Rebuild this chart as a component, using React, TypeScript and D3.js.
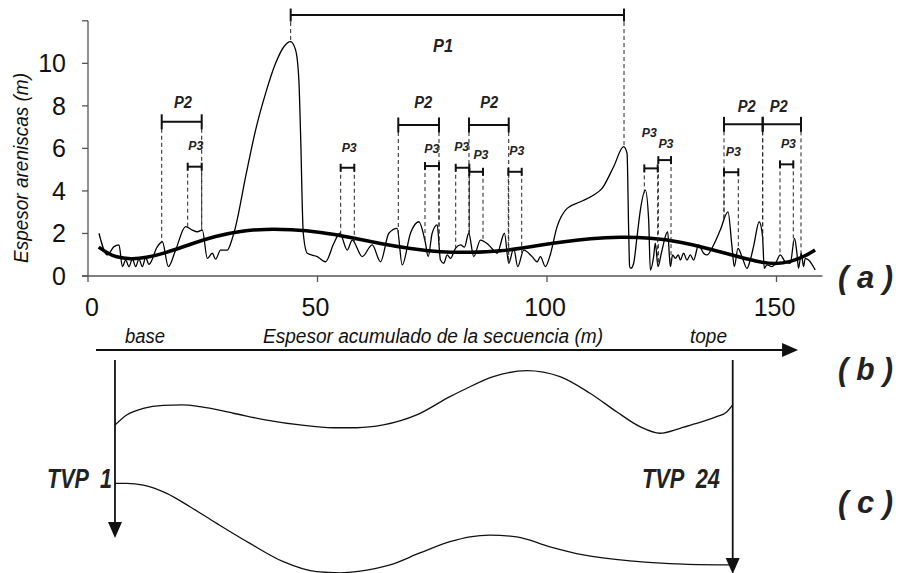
import React from "react";
import * as d3 from "d3";

// ---- Data ----
// Sandstone thickness along the sequence: [accumulated thickness (m), sandstone thickness (m)]
const sandThickness: [number, number][] = [
  [2.39, 2.01], [4.22, 0.99], [5.66, 1.38], [6.75, 1.46], [7.49, 0.44], [8.21, 0.75], [8.93, 0.44],
  [9.67, 0.79], [10.39, 0.44], [11.1, 0.79], [11.84, 0.44], [12.56, 0.86], [13.28, 0.55], [15.11, 1.38],
  [16.2, 1.61], [17.5, 0.44], [19.09, 1.22], [21.27, 2.32], [22.73, 2.16], [23.82, 2.08], [24.91, 2.16],
  [26.0, 0.83], [27.08, 1.07], [27.8, 0.79], [28.89, 1.22], [30.35, 1.22], [31.44, 1.77], [32.16, 2.32],
  [34.34, 4.67], [36.51, 6.86], [38.69, 8.59], [40.87, 10.0], [42.67, 10.78], [44.13, 11.02], [45.22, 10.63],
  [45.94, 9.21], [46.31, 6.71], [46.9, 2.01], [47.77, 1.07], [49.95, 0.91], [51.75, 0.67], [53.56, 1.54],
  [54.87, 2.01], [56.48, 1.22], [57.57, 1.69], [59.74, 0.91], [61.92, 1.46], [63.73, 0.67], [65.54, 2.01],
  [67.36, 2.24], [68.45, 0.52], [70.26, 2.01], [72.07, 2.55], [73.53, 1.54], [74.11, 0.91], [74.98, 2.01],
  [76.07, 2.4], [76.79, 0.75], [77.51, 0.6], [78.25, 0.99], [78.97, 0.83], [80.06, 1.3], [81.15, 1.46],
  [82.02, 1.36], [82.95, 2.01], [84.04, 0.91], [85.5, 1.69], [87.31, 1.46], [89.14, 1.07], [90.73, 2.01],
  [91.66, 0.6], [92.75, 1.3], [93.62, 0.44], [94.93, 1.22], [96.76, 0.91], [97.85, 0.67], [98.56, 0.91],
  [99.65, 0.44], [100.59, 0.91], [102.2, 2.32], [104.38, 3.18], [107.28, 3.49], [110.17, 3.81], [112.0, 4.12],
  [114.52, 5.14], [116.7, 6.08], [117.44, 5.77], [117.79, 2.16], [118.0, 0.44], [118.27, 0.36], [118.88, 0.6],
  [119.62, 1.85], [120.34, 3.1], [121.43, 4.04], [122.15, 2.63], [122.51, 0.28], [123.23, 0.91], [123.6, 1.54],
  [124.19, 0.44], [124.91, 1.07], [126.28, 2.08], [126.87, 0.44], [127.37, 0.99], [127.96, 0.83], [128.61, 0.99],
  [129.05, 0.75], [129.76, 1.07], [130.5, 0.75], [131.22, 0.99], [131.94, 0.75], [133.03, 1.46], [134.12, 1.07],
  [134.86, 0.99], [136.29, 1.46], [137.75, 2.16], [139.43, 3.02], [140.3, 1.38], [140.8, 0.44], [141.61, 1.3],
  [142.48, 0.91], [143.57, 0.36], [144.28, 0.75], [145.0, 1.38], [146.24, 2.55], [146.96, 1.85], [147.33, 0.36],
  [147.92, 0.52], [149.01, 0.44], [149.94, 0.66], [150.82, 0.99], [151.9, 0.67], [152.99, 0.6], [153.93, 1.77],
  [154.45, 1.07], [154.8, 0.36], [155.39, 1.07], [155.89, 0.44], [156.26, 0.83], [156.98, 0.75], [158.44, 0.28],
];

// Smoothed trend
const sandTrend: [number, number][] = [
  [2.33, 1.36], [4.22, 1.08], [6.03, 0.89], [9.3, 0.79], [12.56, 0.85], [16.9, 1.08], [22.36, 1.5],
  [27.8, 1.88], [33.2, 2.12], [38.7, 2.21], [44.1, 2.19], [50.7, 2.07], [57.2, 1.82], [63.7, 1.52],
  [70.3, 1.28], [76.8, 1.12], [83.3, 1.1], [89.9, 1.16], [96.4, 1.38], [102.9, 1.6], [109.5, 1.77],
  [116.0, 1.84], [122.5, 1.8], [129.0, 1.62], [135.6, 1.26], [142.1, 0.88], [146.5, 0.64], [149.7, 0.56],
  [153.0, 0.66], [156.3, 0.94], [158.4, 1.22],
];

// Brackets: [start m, end m, level, label m, label baseline]
const p1Brackets: [number, number, number, number, number][] = [
  [44.16, 116.78, 12.27, 77.34, 10.53],
];
const p2Brackets: [number, number, number, number, number][] = [
  [16.06, 24.77, 7.25, 20.7, 7.9],
  [67.6, 76.47, 7.1, 73.05, 7.9],
  [83.0, 91.66, 7.1, 87.4, 7.9],
  [138.56, 146.99, 7.13, 143.5, 7.71],
  [146.99, 155.34, 7.13, 150.5, 7.71],
];
const p3Brackets: [number, number, number, number, number][] = [
  [21.72, 24.77, 5.14, 23.5, 5.92],
  [55.05, 58.02, 5.09, 56.9, 5.84],
  [73.42, 76.47, 5.17, 74.9, 5.77],
  [80.11, 83.07, 5.09, 81.4, 5.89],
  [83.07, 86.06, 4.9, 85.6, 5.49],
  [91.57, 94.49, 4.9, 93.4, 5.69],
  [121.2, 124.12, 5.06, 122.3, 6.55],
  [124.25, 127.02, 5.45, 125.9, 6.03],
  [138.56, 141.68, 4.88, 140.6, 5.66],
  [150.76, 153.66, 5.25, 152.6, 6.0],
];

const xTicks = [0, 50, 100, 150];
const yTicks = [0, 2, 4, 6, 8, 10, 12];
const yTickLabels = ["0", "2", "4", "6", "8", "10", ""];

// Lower panels: [m, relative depth 0-100]
const profileB: [number, number][] = [
  [5.88, 30.5], [8.43, 25.8], [12.05, 22.7], [16.41, 21.3], [20.41, 21.1], [24.4, 21.9], [31.66, 25.0],
  [38.93, 28.2], [46.19, 30.5], [53.44, 31.8], [58.54, 31.8], [64.34, 30.5], [71.61, 25.8], [78.87, 17.2],
  [81.76, 14.1], [88.3, 7.8], [95.58, 5.0], [102.83, 7.8], [109.37, 15.6], [115.18, 24.3], [120.26, 31.3],
  [124.62, 34.4], [128.98, 32.1], [132.61, 29.7], [136.97, 26.6], [139.15, 24.4], [140.46, 21.1],
];
const profileC: [number, number][] = [
  [5.88, 57.9], [8.43, 57.9], [12.05, 58.7], [17.15, 62.6], [22.22, 68.9], [28.04, 76.7], [35.29, 86.1],
  [42.55, 94.7], [49.83, 99.4], [54.9, 99.9], [59.26, 99.1], [65.8, 96.2], [72.33, 90.6], [78.87, 85.3],
  [83.22, 83.0], [87.58, 82.2], [93.4, 83.0], [100.65, 87.7], [107.91, 91.5], [118.8, 94.4], [129.69, 95.8],
  [140.46, 96.2],
];
const panelLabels = ["( a )", "( b )", "( c )"];
const sequenceBase = 5.88;
const sequenceTop = 140.46;
const arrowStart = 1.74;
const arrowEnd = 154.7;

const FONT = "'Liberation Sans', Arial, Helvetica, sans-serif";

export default function App() {
  const W = 898, H = 573;
  const x = d3.scaleLinear().domain([0, 160]).range([88, 822.4]);
  const y = d3.scaleLinear().domain([0, 12]).range([276, 20.8]);
  const yb = d3.scaleLinear().domain([0, 100]).range([360, 573]);

  const line = d3.line<[number, number]>().x(d => x(d[0])).y(d => y(d[1])).curve(d3.curveMonotoneX);
  const trendLine = d3.line<[number, number]>().x(d => x(d[0])).y(d => y(d[1])).curve(d3.curveBasis);
  const profLine = d3.line<[number, number]>().x(d => x(d[0])).y(d => yb(d[1])).curve(d3.curveMonotoneX);

  const bis = d3.bisector((d: [number, number]) => d[0]).left;
  const valueAt = (m: number) => {
    const i = bis(sandThickness, m);
    if (i <= 0) return sandThickness[0][1];
    if (i >= sandThickness.length) return sandThickness[sandThickness.length - 1][1];
    const a = sandThickness[i - 1], b = sandThickness[i];
    const t = (m - a[0]) / (b[0] - a[0]);
    return a[1] + t * (b[1] - a[1]);
  };

  const drawBrackets = (list: [number, number, number, number, number][], cap: number, fs: number, label: string, tl: number) =>
    list.map((b, i) => (
      <g key={label + i}>
        {[b[0], b[1]].map((m, j) => (
          <line key={j} x1={x(m)} x2={x(m)} y1={y(b[2])} y2={y(valueAt(m))} stroke="#222" strokeWidth={1} strokeDasharray="4,3" />
        ))}
        <line x1={x(b[0])} x2={x(b[1])} y1={y(b[2])} y2={y(b[2])} stroke="#111" strokeWidth={2} />
        <line x1={x(b[0])} x2={x(b[0])} y1={y(b[2]) - cap} y2={y(b[2]) + cap} stroke="#111" strokeWidth={2} />
        <line x1={x(b[1])} x2={x(b[1])} y1={y(b[2]) - cap} y2={y(b[2]) + cap} stroke="#111" strokeWidth={2} />
        <text x={x(b[3])} y={y(b[4])} textAnchor="middle" fontSize={fs} fontWeight="bold" fontStyle="italic"
          fontFamily={FONT} fill="#222" textLength={tl} lengthAdjust="spacingAndGlyphs">{label}</text>
      </g>
    ));

  const axisColor = "#555";
  const ax = y(0);
  const arrowY = 350;
  const panelBaselines = [288, 380, 513];

  return (
    <svg width={W} height={H} style={{ position: "absolute", left: 0, top: 0, background: "#fff" }}>
      <rect x={0} y={0} width={W} height={H} fill="#fff" />
      {/* axes */}
      <line x1={x(0)} x2={x(0)} y1={y(12)} y2={ax} stroke={axisColor} strokeWidth={1.3} />
      <line x1={x(0) - 6} x2={x(160)} y1={ax} y2={ax} stroke={axisColor} strokeWidth={1.3} />
      {yTicks.map((t, i) => (
        <g key={"yt" + t}>
          <line x1={x(0) - 6} x2={x(0)} y1={y(t)} y2={y(t)} stroke={axisColor} strokeWidth={1.3} />
          <text x={66} y={y(t) + 9} textAnchor="end" fontSize={25} fontFamily={FONT} fill="#111">{yTickLabels[i]}</text>
        </g>
      ))}
      {xTicks.map(t => (
        <g key={"xt" + t}>
          <line x1={x(t)} x2={x(t)} y1={ax} y2={ax + 6} stroke={axisColor} strokeWidth={1.3} />
          <text x={x(t) + (t === 0 ? 4 : -2)} y={316} textAnchor="middle" fontSize={25} fontFamily={FONT} fill="#111">{t}</text>
        </g>
      ))}
      <text transform="translate(28,168) rotate(-90)" textAnchor="middle" fontSize={20} fontStyle="italic"
        fontFamily={FONT} fill="#111" textLength={190} lengthAdjust="spacingAndGlyphs">Espesor areniscas (m)</text>

      {/* series */}
      <path d={line(sandThickness) || ""} fill="none" stroke="#000" strokeWidth={1.3} />
      <path d={trendLine(sandTrend) || ""} fill="none" stroke="#000" strokeWidth={3.5} />

      {drawBrackets(p1Brackets, 6.5, 19, "P1", 20)}
      {drawBrackets(p2Brackets, 7.5, 16, "P2", 18)}
      {drawBrackets(p3Brackets, 4, 13, "P3", 15)}

      {/* panel labels */}
      {panelLabels.map((l, i) => (
        <text key={l} x={838} y={panelBaselines[i]} fontSize={31} fontWeight="bold" fontStyle="italic" fontFamily={FONT}
          fill="#222" textLength={55} lengthAdjust="spacingAndGlyphs">{l}</text>
      ))}

      {/* sequence arrow */}
      <text x={125} y={343} fontSize={20} fontStyle="italic" fontFamily={FONT} fill="#111" textLength={40} lengthAdjust="spacingAndGlyphs">base</text>
      <text x={263} y={343} fontSize={20} fontStyle="italic" fontFamily={FONT} fill="#111" textLength={340} lengthAdjust="spacingAndGlyphs">Espesor acumulado de la secuencia (m)</text>
      <text x={690} y={343} fontSize={20} fontStyle="italic" fontFamily={FONT} fill="#111" textLength={37} lengthAdjust="spacingAndGlyphs">tope</text>
      <line x1={x(arrowStart)} x2={x(arrowEnd) - 10} y1={arrowY} y2={arrowY} stroke="#111" strokeWidth={2.2} />
      <polygon points={`${x(arrowEnd)},${arrowY} ${x(arrowEnd) - 16},${arrowY - 7} ${x(arrowEnd) - 16},${arrowY + 7}`} fill="#111" />

      {/* vertical arrows */}
      <line x1={x(sequenceBase)} x2={x(sequenceBase)} y1={360} y2={528} stroke="#111" strokeWidth={1.8} />
      <polygon points={`${x(sequenceBase)},538 ${x(sequenceBase) - 7},522 ${x(sequenceBase) + 7},522`} fill="#111" />
      <line x1={x(sequenceTop)} x2={x(sequenceTop)} y1={360} y2={565} stroke="#111" strokeWidth={1.8} />
      <polygon points={`${x(sequenceTop)},574 ${x(sequenceTop) - 7},558 ${x(sequenceTop) + 7},558`} fill="#111" />

      <path d={profLine(profileB) || ""} fill="none" stroke="#111" strokeWidth={1.3} />
      <path d={profLine(profileC) || ""} fill="none" stroke="#111" strokeWidth={1.3} />

      <text x={112} y={488} textAnchor="end" fontSize={27} fontWeight="bold" fontStyle="italic" fontFamily={FONT} fill="#222"
        textLength={65} lengthAdjust="spacingAndGlyphs" style={{ whiteSpace: "pre" }}>{"TVP  1"}</text>
      <text x={720} y={488} textAnchor="end" fontSize={27} fontWeight="bold" fontStyle="italic" fontFamily={FONT} fill="#222"
        textLength={78} lengthAdjust="spacingAndGlyphs" style={{ whiteSpace: "pre" }}>{"TVP  24"}</text>
    </svg>
  );
}
